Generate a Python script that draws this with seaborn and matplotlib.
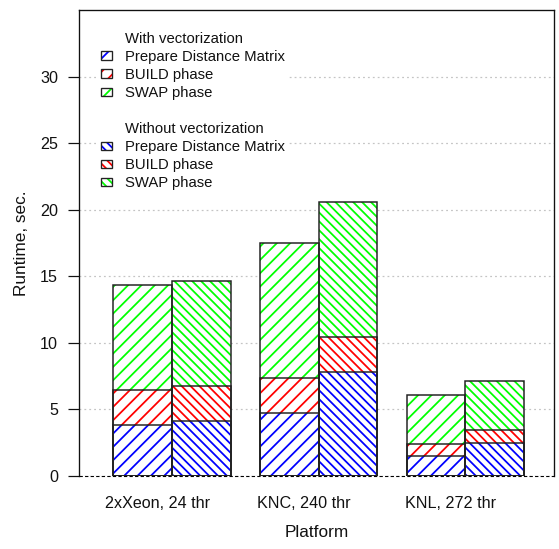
import matplotlib
matplotlib.use("Agg")
import matplotlib.pyplot as plt
from matplotlib.patches import Patch
import seaborn as sns

platforms = ["2xXeon, 24 thr", "KNC, 240 thr", "KNL, 272 thr"]
phases = ["Prepare Distance Matrix", "BUILD phase", "SWAP phase"]
phase_colors = ["#0000FF", "#FF0000", "#00FF00"]

# runtime per phase, seconds
vec_prepare = [3.78, 4.74, 1.45]
vec_build = [2.64, 2.64, 0.92]
vec_swap = [7.88, 10.09, 3.73]

novec_prepare = [4.08, 7.80, 2.48]
novec_build = [2.69, 2.60, 0.92]
novec_swap = [7.85, 10.20, 3.73]

yticks = [0, 5, 10, 15, 20, 25, 30]

sns.set_theme(style="white")
plt.rcParams["font.family"] = ["Liberation Sans", "DejaVu Sans"]
plt.rcParams["hatch.linewidth"] = 1.6

DPI = 80
fig = plt.figure(figsize=(559 / DPI, 549 / DPI), dpi=DPI)
ax = fig.add_axes([79 / 559, 1 - 475.7 / 549, 475 / 559, 465.7 / 549])

group_pos = [1.0 + 2.5 * i for i in range(len(platforms))]
outline = "#222222"
hatch_with = "//"
hatch_without = "\\\\\\"


def stacked(xpos, parts, hatch):
    tops = []
    for p in parts:
        tops.append([r + v for r, v in zip(tops[-1], p)] if tops else list(p))
    # draw tallest layer first so lower segments sit on top of it
    for top, col in reversed(list(zip(tops, phase_colors))):
        sns.barplot(x=xpos, y=top, native_scale=True, width=0.4, color="white",
                    saturation=1, errorbar=None, facecolor="white", edgecolor=col,
                    hatch=hatch, linewidth=0, ax=ax, zorder=2)
        sns.barplot(x=xpos, y=top, native_scale=True, width=0.4, fill=False,
                    errorbar=None, facecolor="none", edgecolor=outline,
                    linewidth=1.35, ax=ax, zorder=2.1)


stacked([g - 0.5 for g in group_pos], [vec_prepare, vec_build, vec_swap], hatch_with)
stacked([g + 0.5 for g in group_pos], [novec_prepare, novec_build, novec_swap], hatch_without)

ax.set_xlim(-0.585, 7.512)
ax.set_ylim(0, 35)
ax.set_yticks(yticks)
ax.set_yticklabels([str(t) for t in yticks])
ax.set_xticks([g - 0.25 for g in group_pos])
ax.set_xticklabels(platforms)

ax.set_axisbelow(True)
ax.yaxis.grid(True, linestyle=(0, (1.5, 2.5)), color="#c4c4c4", linewidth=1.1)
ax.xaxis.grid(False)
ax.axhline(0, color="black", linestyle=(0, (3, 2)), linewidth=1.0, zorder=6, clip_on=False)

for side in ["left", "top", "right"]:
    ax.spines[side].set_visible(True)
    ax.spines[side].set_color("#111111")
    ax.spines[side].set_linewidth(1.2)
ax.spines["bottom"].set_visible(False)

ax.tick_params(axis="y", left=True, length=9.9, width=1.1, pad=9, labelsize=14.5,
               direction="out", color="#111111", labelcolor="#111111")
ax.tick_params(axis="x", bottom=False, length=0, pad=18, labelsize=14.5, labelcolor="#111111")

ax.set_ylabel("Runtime, sec.", fontsize=15.5, color="#111111")
ax.set_xlabel("Platform", fontsize=15.5, color="#111111")
ax.yaxis.label.set_va("center")
ax.xaxis.label.set_va("center")
ax.yaxis.set_label_coords(-0.122, 0.5)
ax.xaxis.set_label_coords(0.5, -0.123)

blank = Patch(facecolor="none", edgecolor="none")
handles, labels = [], []
for title, hatch in [("With vectorization", hatch_with), ("Without vectorization", hatch_without)]:
    if handles:
        handles.append(blank)
        labels.append(" ")
    handles.append(blank)
    labels.append(title)
    for name, col in zip(phases, phase_colors):
        handles.append((Patch(facecolor="white", edgecolor=col, hatch=hatch, linewidth=0),
                        Patch(fill=False, edgecolor=outline, linewidth=1.2)))
        labels.append(name)

leg = ax.legend(handles, labels, loc="upper left", bbox_to_anchor=(0.036, 0.962),
                borderaxespad=0, borderpad=0.3, fontsize=13.4, frameon=True,
                framealpha=1, facecolor="white", edgecolor="none", fancybox=False,
                handlelength=0.74, handleheight=0.54, handletextpad=0.87,
                labelspacing=0.27)
for t in leg.get_texts():
    t.set_color("#111111")

fig.savefig("out.png", dpi=DPI)
